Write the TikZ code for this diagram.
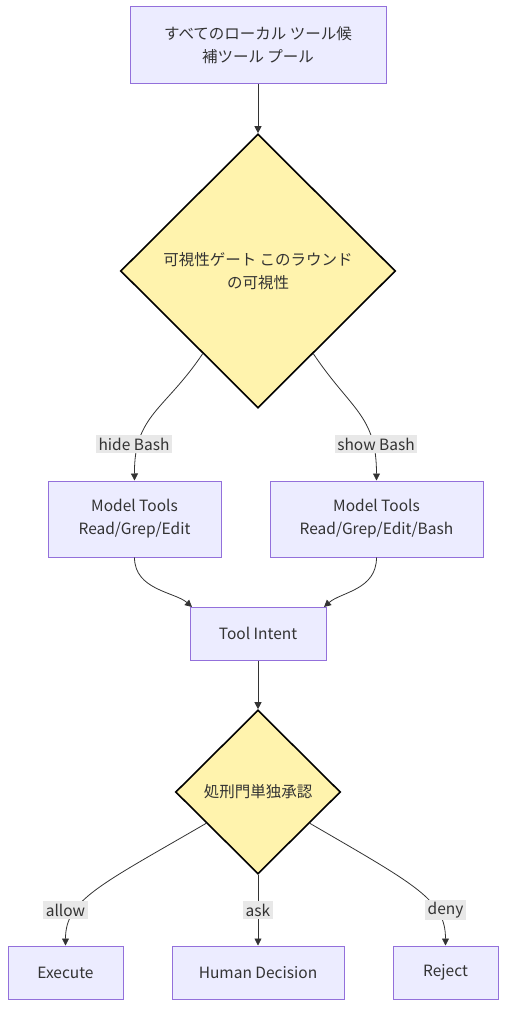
\documentclass[tikz,border=0pt]{standalone}
\usepackage{fontspec}
\setmainfont{Noto Sans CJK JP}
\usetikzlibrary{shapes.geometric,arrows.meta,calc}
\definecolor{boxfill}{HTML}{ECECFF}
\definecolor{boxline}{HTML}{9370DB}
\definecolor{gatefill}{HTML}{FFF3AD}
\definecolor{ink}{HTML}{333333}
\definecolor{lblfill}{HTML}{E8E8E8}
\begin{document}
\begin{tikzpicture}[x=1pt,y=-1pt,
 box/.style={draw=boxline,fill=boxfill,line width=1pt,align=center,inner sep=0pt,text=ink,font=\fontsize{15.5}{23}\selectfont},
 gate/.style={diamond,draw=black,fill=gatefill,line width=1.6pt,inner sep=0pt,align=center,text=ink,font=\fontsize{15.5}{23}\selectfont},
 edge/.style={draw=ink,line width=0.8pt,-{Triangle[length=7pt,width=7pt]}},
 lbl/.style={fill=lblfill,inner sep=2.5pt,text=ink,font=\fontsize{15.5}{18}\selectfont}]
 \useasboundingbox (0,0) rectangle (514,1022);
 \node[box,minimum width=256pt,minimum height=77pt] (pool) at (258,45.5) {すべてのローカル ツール候\\補ツール プール};
 \node[gate,minimum width=275pt,minimum height=274pt] (vis) at (258,271) {可視性ゲート このラウンド\\の可視性};
 \node[box,minimum width=173pt,minimum height=76pt] (hide) at (134.5,519) {Model Tools\\Read/Grep/Edit};
 \node[box,minimum width=213pt,minimum height=76pt] (show) at (376.5,519) {Model Tools\\Read/Grep/Edit/Bash};
 \node[box,minimum width=136pt,minimum height=53pt] (intent) at (258,633.5) {Tool Intent};
 \node[gate,minimum width=165pt,minimum height=164pt] (appr) at (258,792) {処刑門単独承認};
 \node[box,minimum width=115pt,minimum height=53pt] (exec) at (65.5,972.5) {Execute};
 \node[box,minimum width=172pt,minimum height=53pt] (human) at (258,972.5) {Human Decision};
 \node[box,minimum width=105pt,minimum height=53pt] (rej) at (445.5,972.5) {Reject};
 % edges
 \draw[edge] (pool) -- (vis);
 \draw[edge] ($(vis.west)!0.6!(vis.south)$) .. controls (165,410) and (134,415) .. (hide.north);
 \draw[edge] ($(vis.east)!0.6!(vis.south)$) .. controls (351,410) and (376.5,415) .. (show.north);
 \draw[edge] (hide.south) .. controls (134.5,590) and (175,592) .. (192,607);
 \draw[edge] (show.south) .. controls (376.5,590) and (341,592) .. (324,607);
 \draw[edge] (intent) -- (appr);
 \draw[edge] ($(appr.west)!0.378!(appr.south)$) .. controls (100,885) and (65.5,900) .. (exec.north);
 \draw[edge] (appr.south) -- (human.north);
 \draw[edge] ($(appr.east)!0.378!(appr.south)$) .. controls (416,885) and (445.5,900) .. (rej.north);
 % labels
 \node[lbl] (lhide) at (134,444) {hide Bash};
 \node[lbl] (lshow) at (376,444) {show Bash};
 \node[lbl] (lallow) at (65.5,910) {allow};
 \node[lbl] (lask) at (258,910) {ask};
 \node[lbl] (ldeny) at (445.5,910) {deny};
\end{tikzpicture}
\end{document}
